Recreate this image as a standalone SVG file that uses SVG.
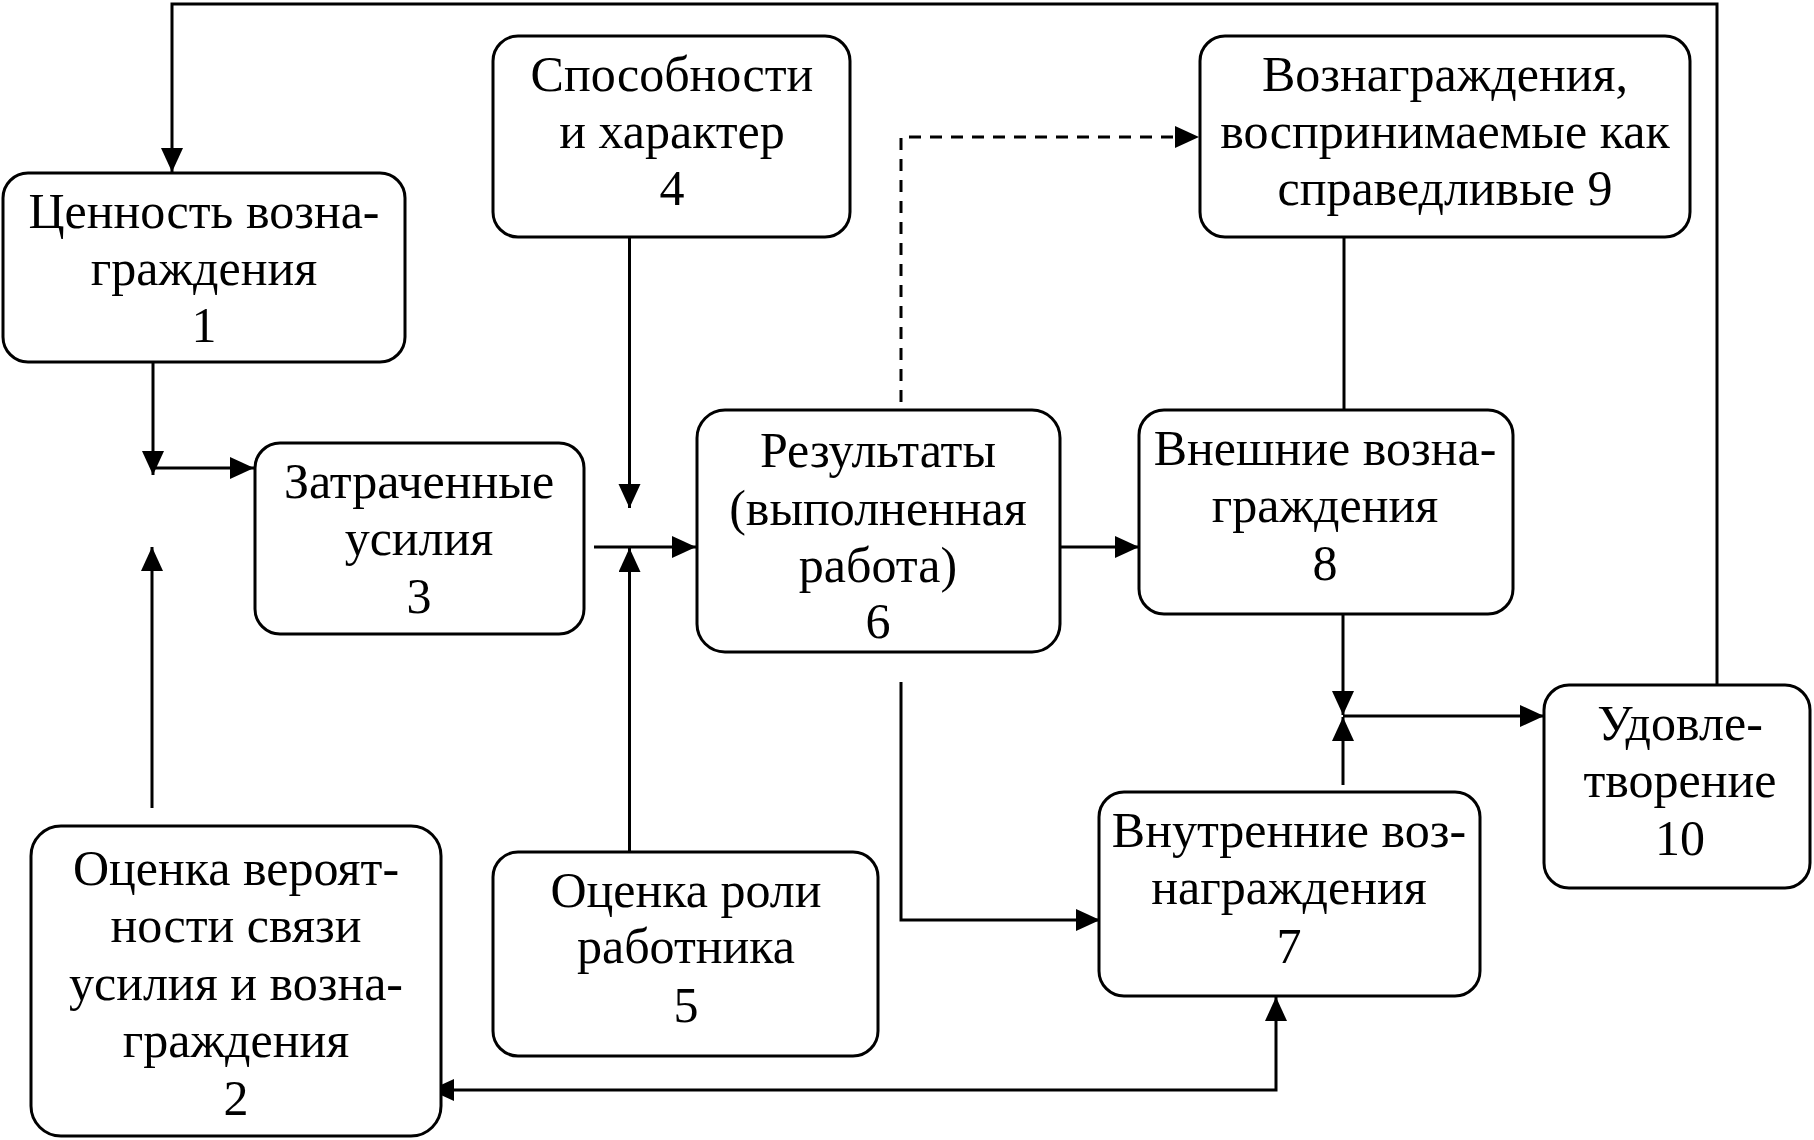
<svg xmlns="http://www.w3.org/2000/svg" width="1814" height="1140" viewBox="0 0 1814 1140">
<style>
.box{fill:#fff;stroke:#000;stroke-width:3}
.t{font-family:"Liberation Serif","Times New Roman",serif;font-size:50px;text-anchor:middle;fill:#000}
.c{fill:none;stroke:#000;stroke-width:3}
.d{stroke-dasharray:12 9}
</style>
<defs>
<marker id="a" markerUnits="userSpaceOnUse" markerWidth="26" markerHeight="24" refX="24" refY="11" orient="auto-start-reverse">
<path d="M0,0 L24,11 L0,22 z" fill="#000"/>
</marker>
</defs>
<rect width="1814" height="1140" fill="#fff"/>
<g id="connectors">
<path class="c" d="M1717,685 V4 H172 V172" marker-end="url(#a)"/>
<path class="c" d="M153,362 V475" marker-end="url(#a)"/>
<path class="c" d="M153,468 H254" marker-end="url(#a)"/>
<path class="c" d="M152,808 V547" marker-end="url(#a)"/>
<path class="c" d="M594,547 H696" marker-end="url(#a)"/>
<path class="c" d="M629.5,237 V508" marker-end="url(#a)"/>
<path class="c" d="M629.5,852 V548" marker-end="url(#a)"/>
<path class="c d" d="M901,402 V137 H1199" marker-end="url(#a)"/>
<path class="c" d="M1060,547 H1139" marker-end="url(#a)"/>
<path class="c" d="M901,682 V920 H1100" marker-end="url(#a)"/>
<path class="c" d="M1344,237 V410"/>
<path class="c" d="M1343,615 V715" marker-end="url(#a)"/>
<path class="c" d="M1343,785 V717" marker-end="url(#a)"/>
<path class="c" d="M1343,716 H1544" marker-end="url(#a)"/>
<path class="c" d="M430,1090 H1276 V997" marker-start="url(#a)" marker-end="url(#a)"/>
</g>
<g id="n1"><rect class="box" x="3" y="173" width="402" height="189" rx="25"/>
<text class="t" x="204" y="228">Ценность возна-</text><text class="t" x="204" y="285">граждения</text><text class="t" x="204" y="342">1</text></g>
<g id="n2"><rect class="box" x="31" y="826" width="410" height="310" rx="30"/>
<text class="t" x="236" y="885">Оценка вероят-</text><text class="t" x="236" y="942">ности связи</text><text class="t" x="236" y="1000">усилия и возна-</text><text class="t" x="236" y="1057">граждения</text><text class="t" x="236" y="1115">2</text></g>
<g id="n3"><rect class="box" x="255" y="443" width="329" height="191" rx="25"/>
<text class="t" x="419" y="498">Затраченные</text><text class="t" x="419" y="555">усилия</text><text class="t" x="419" y="613">3</text></g>
<g id="n4"><rect class="box" x="493" y="36" width="357" height="201" rx="25"/>
<text class="t" x="672" y="91">Способности</text><text class="t" x="672" y="148">и характер</text><text class="t" x="672" y="205">4</text></g>
<g id="n5"><rect class="box" x="493" y="852" width="385" height="204" rx="25"/>
<text class="t" x="686" y="907">Оценка роли</text><text class="t" x="686" y="963">работника</text><text class="t" x="686" y="1022">5</text></g>
<g id="n6"><rect class="box" x="697" y="410" width="363" height="242" rx="28"/>
<text class="t" x="878" y="467">Результаты</text><text class="t" x="878" y="525">(выполненная</text><text class="t" x="878" y="582">работа)</text><text class="t" x="878" y="638">6</text></g>
<g id="n7"><rect class="box" x="1099" y="792" width="381" height="204" rx="25"/>
<text class="t" x="1289" y="847">Внутренние воз-</text><text class="t" x="1289" y="904">награждения</text><text class="t" x="1289" y="963">7</text></g>
<g id="n8"><rect class="box" x="1139" y="410" width="374" height="204" rx="25"/>
<text class="t" x="1325" y="465">Внешние возна-</text><text class="t" x="1325" y="522">граждения</text><text class="t" x="1325" y="580">8</text></g>
<g id="n9"><rect class="box" x="1200" y="36" width="490" height="201" rx="25"/>
<text class="t" x="1445" y="91">Вознаграждения,</text><text class="t" x="1445" y="148">воспринимаемые как</text><text class="t" x="1445" y="205">справедливые 9</text></g>
<g id="n10"><rect class="box" x="1544" y="685" width="266" height="203" rx="25"/>
<text class="t" x="1680" y="740">Удовле-</text><text class="t" x="1680" y="797">творение</text><text class="t" x="1680" y="855">10</text></g>
</svg>
